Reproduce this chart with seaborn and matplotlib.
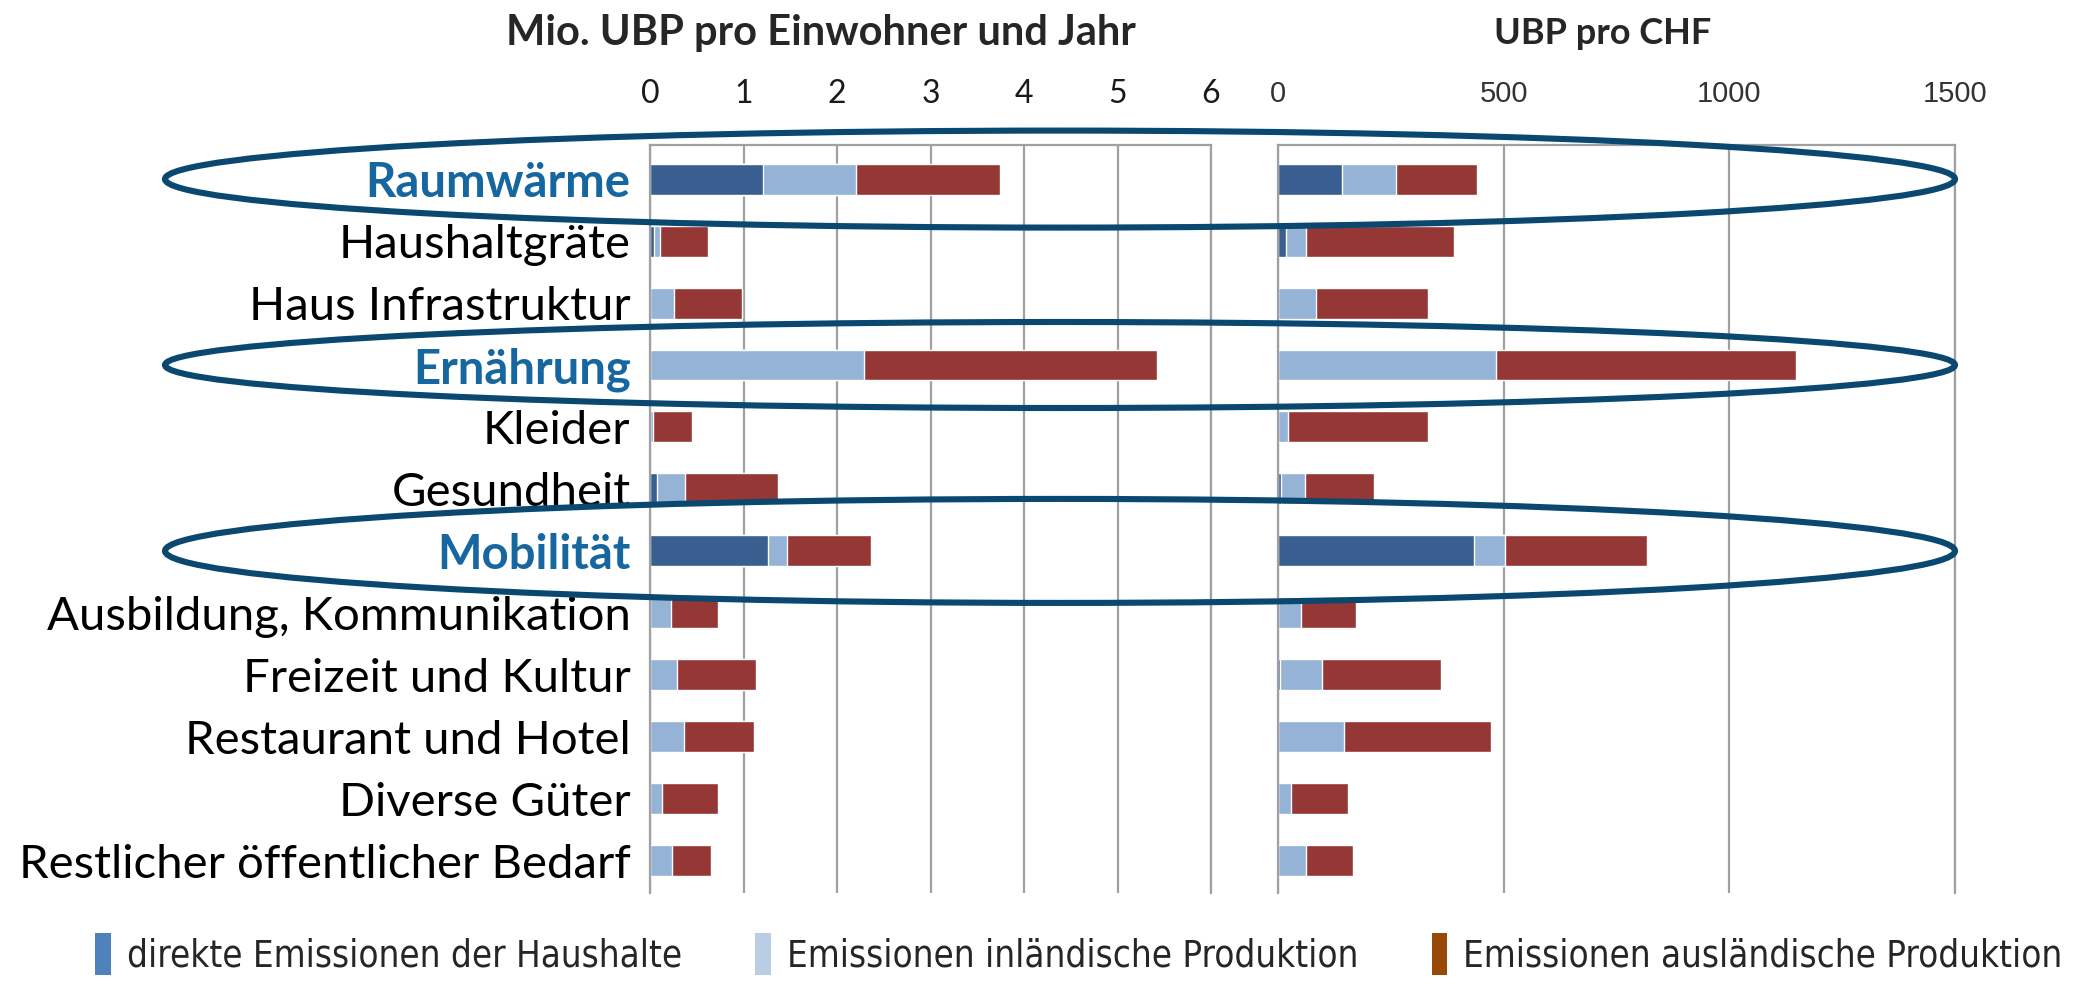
import numpy as np
import pandas as pd
import matplotlib
matplotlib.use('Agg')
import matplotlib.pyplot as plt
import seaborn as sns
from matplotlib.patches import Ellipse, Patch
from matplotlib import font_manager as fm

# data
categories = ['Raumwärme', 'Haushaltgräte', 'Haus Infrastruktur', 'Ernährung', 'Kleider',
              'Gesundheit', 'Mobilität', 'Ausbildung, Kommunikation', 'Freizeit und Kultur',
              'Restaurant und Hotel', 'Diverse Güter', 'Restlicher öffentlicher Bedarf']
highlighted = ['Raumwärme', 'Ernährung', 'Mobilität']

# Mio. UBP pro Einwohner und Jahr
direkt_ew = [1.21, 0.04, 0.0, 0.0, 0.0, 0.07, 1.26, 0.0, 0.0, 0.0, 0.0, 0.0]
inland_ew = [0.99, 0.07, 0.26, 2.29, 0.03, 0.30, 0.21, 0.22, 0.29, 0.36, 0.13, 0.24]
ausland_ew = [1.54, 0.51, 0.72, 3.13, 0.42, 1.00, 0.89, 0.51, 0.84, 0.75, 0.60, 0.41]

# UBP pro CHF
direkt_chf = [141, 18, 0, 0, 0, 7, 434, 0, 5, 0, 0, 0]
inland_chf = [120, 43, 85, 482, 23, 52, 68, 50, 92, 146, 29, 61]
ausland_chf = [181, 329, 247, 665, 309, 154, 315, 122, 264, 325, 127, 106]

ticks_ew = [0, 1, 2, 3, 4, 5, 6]
ticks_chf = [0, 500, 1000, 1500]

legend_labels = ['direkte Emissionen der Haushalte', 'Emissionen inländische Produktion',
                 'Emissionen ausländische Produktion']

c_direkt = '#385F8F'
c_inland = '#95B3D7'
c_ausland = '#953735'
legend_colors = ['#4F81BD', '#B9CDE5', '#984807']
ring_color = '#0A4870'
grid_color = '#A0A0A0'
hl_color = '#1666A0'

sns.set_style('white')
plt.rcParams['font.family'] = ['Lato', 'DejaVu Sans']


# pick a condensed face for the legend if one is around
def condensed_font():
    for fam, stretch, size in [('Liberation Sans Narrow', 'condensed', 30),
                               ('DejaVu Sans', 'condensed', 26.3)]:
        fp = fm.FontProperties(family=fam, stretch=stretch, size=size)
        try:
            path = fm.findfont(fp, fallback_to_default=False)
        except ValueError:
            continue
        if 'Narrow' in path or 'Condensed' in path:
            return fp
    return fm.FontProperties(family='Lato', size=25.5)


fig = plt.figure(figsize=(20.83, 9.84), dpi=100)
ax1 = fig.add_axes([650 / 2083, 91 / 984, 561 / 2083, 748 / 984])
ax2 = fig.add_axes([1278 / 2083, 91 / 984, 677 / 2083, 748 / 984])


def stacked(ax, direkt, inland, ausland):
    df = pd.DataFrame({'Kategorie': categories, 'direkt': direkt,
                       'inland': inland, 'ausland': ausland})
    df['c1'] = df['direkt']
    df['c2'] = df['c1'] + df['inland']
    df['c3'] = df['c2'] + df['ausland']
    for col, color in [('c3', c_ausland), ('c2', c_inland), ('c1', c_direkt)]:
        sns.barplot(data=df, x=col, y='Kategorie', order=categories, color=color,
                    width=0.5, saturation=1, orient='h', ax=ax)


stacked(ax1, direkt_ew, inland_ew, ausland_ew)
stacked(ax2, direkt_chf, inland_chf, ausland_chf)

for ax, ticks in [(ax1, ticks_ew), (ax2, ticks_chf)]:
    ax.set_xlim(ticks[0], ticks[-1])
    ax.set_xticks(ticks)
    ax.set_ylim(11.52, -0.55)
    ax.xaxis.tick_top()
    ax.set_xlabel('')
    ax.set_ylabel('')
    ax.grid(axis='x', color=grid_color, lw=1.6)
    ax.set_axisbelow(True)
    for side in ['top', 'left', 'right']:
        ax.spines[side].set_visible(True)
        ax.spines[side].set_color(grid_color)
        ax.spines[side].set_linewidth(1.6)
    ax.spines['bottom'].set_visible(False)

ax1.tick_params(axis='x', length=0, pad=26, labelsize=23, labelcolor='#1a1a1a')
ax2.tick_params(axis='x', length=0, pad=27, labelsize=21, labelcolor='#333333')
for lab in ax2.get_xticklabels():
    lab.set_family(['Liberation Sans', 'DejaVu Sans'])

ax1.tick_params(axis='y', length=0, pad=14, labelsize=34)
for lab in ax1.get_yticklabels():
    if lab.get_text() in highlighted:
        lab.set_fontweight('bold')
        lab.set_color(hl_color)
    else:
        lab.set_color('black')
ax2.set_yticklabels([])
ax2.tick_params(axis='y', length=0)

fig.text(821 / 2083, 1 - 33 / 984, 'Mio. UBP pro Einwohner und Jahr', ha='center', va='center',
         fontsize=30, fontweight='bold')
fig.text(1603 / 2083, 1 - 33 / 984, 'UBP pro CHF', ha='center', va='center',
         fontsize=26, fontweight='bold')

# rings around the highlighted rows
for name, h in [('Raumwärme', 97), ('Ernährung', 86), ('Mobilität', 104)]:
    idx = categories.index(name)
    y_px = ax1.transData.transform((0, idx))[1]
    y_fig = fig.transFigure.inverted().transform((0, y_px))[1]
    fig.add_artist(Ellipse((1060 / 2083, y_fig), 1790 / 2083, h / 984, transform=fig.transFigure,
                           fill=False, edgecolor=ring_color, lw=4.4, zorder=10))

handles = [Patch(facecolor=c, edgecolor='none') for c in legend_colors]
fig.legend(handles, legend_labels, loc='center', bbox_to_anchor=(0.518, 1 - 954 / 984), ncol=3,
           frameon=False, handlelength=0.42, handleheight=1.4, handletextpad=0.45,
           columnspacing=2.0, prop=condensed_font())

fig.savefig('out.png', dpi=100)
